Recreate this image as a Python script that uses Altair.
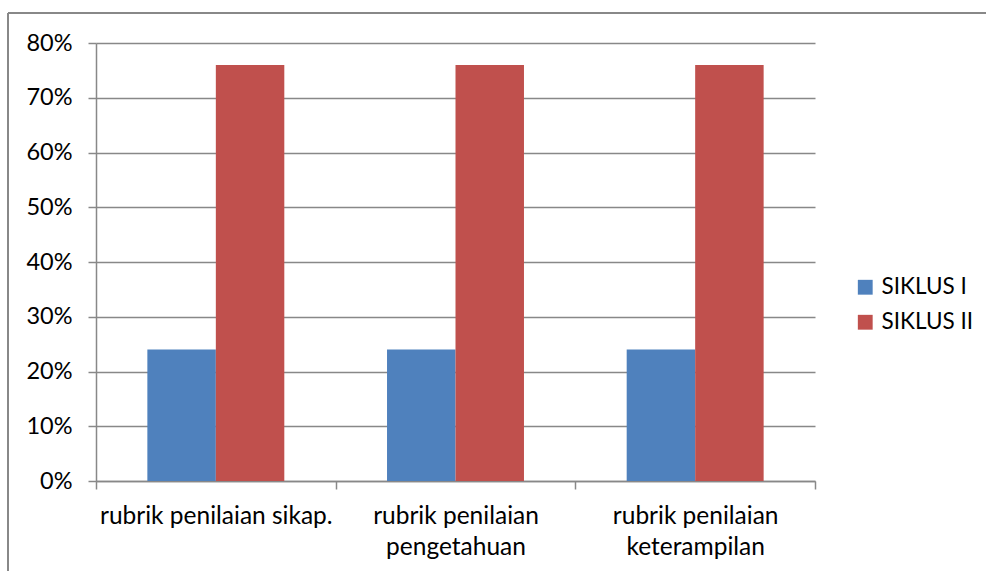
import altair as alt
import pandas as pd

# Assessment rubrics (use "|" to break an axis label onto two lines)
categories = [
    "rubrik penilaian sikap.",
    "rubrik penilaian|pengetahuan",
    "rubrik penilaian|keterampilan",
]
series = ["SIKLUS I", "SIKLUS II"]
siklus_1 = [0.24, 0.24, 0.24]
siklus_2 = [0.76, 0.76, 0.76]
colors = ["#4F81BD", "#C0504D"]

rows = []
for cat, v1, v2 in zip(categories, siklus_1, siklus_2):
    rows.append({"rubrik": cat, "siklus": series[0], "nilai": v1})
    rows.append({"rubrik": cat, "siklus": series[1], "nilai": v2})
df = pd.DataFrame(rows)

FONT = "Lato"
GRID = "#888888"

bars = alt.Chart(df).mark_bar().encode(
    x=alt.X(
        "rubrik:N",
        sort=categories,
        title=None,
        scale=alt.Scale(paddingInner=0, paddingOuter=0),
        axis=alt.Axis(
            labelAngle=0,
            labelExpr="split(datum.label, '|')",
            labelFont=FONT,
            labelFontSize=24.5,
            labelColor="#000000",
            labelPadding=15,
            labelLineHeight=31,
            labelLimit=0,
            tickBand="extent",
            tickSize=8,
            tickColor=GRID,
            tickWidth=1.5,
            domainColor=GRID,
            domainWidth=1.5,
            grid=False,
        ),
    ),
    xOffset=alt.XOffset(
        "siklus:N",
        sort=series,
        scale=alt.Scale(paddingOuter=0.75, paddingInner=0),
    ),
    y=alt.Y(
        "nilai:Q",
        title=None,
        scale=alt.Scale(domain=[0, 0.8], nice=False),
        axis=alt.Axis(
            format=".0%",
            values=[0, 0.1, 0.2, 0.3, 0.4, 0.5, 0.6, 0.7, 0.8],
            labelFont=FONT,
            labelFontSize=23.5,
            labelColor="#000000",
            labelPadding=16,
            tickSize=8,
            tickColor=GRID,
            tickWidth=1.5,
            domainColor=GRID,
            domainWidth=1.5,
            gridColor=GRID,
            gridWidth=1.5,
        ),
    ),
    color=alt.Color(
        "siklus:N",
        sort=series,
        scale=alt.Scale(domain=series, range=colors),
        legend=alt.Legend(
            title=None,
            orient="none",
            legendX=758,
            legendY=233,
            symbolType="square",
            symbolSize=220,
            symbolStrokeWidth=0,
            labelFont=FONT,
            labelFontSize=22.5,
            labelColor="#000000",
            labelLimit=0,
            rowPadding=12,
            labelOffset=5,
        ),
    ),
)

# Outer chart frame (top and left edges)
frame_top = alt.Chart(df).mark_rule(color=GRID, strokeWidth=2).encode(
    x=alt.value(-88), x2=alt.value(900), y=alt.value(-30)
)
frame_left = alt.Chart(df).mark_rule(color=GRID, strokeWidth=2).encode(
    x=alt.value(-88), y=alt.value(-30), y2=alt.value(540)
)

chart = (
    alt.layer(bars, frame_top, frame_left)
    .properties(
        width=719,
        height=438,
        autosize=alt.AutoSizeParams(type="none"),
        padding={"left": 96, "top": 43, "right": 171, "bottom": 90},
        background="#ffffff",
    )
    .configure_view(stroke=None)
)

chart.save("out.html", embed_options={"renderer": "svg", "actions": False})
